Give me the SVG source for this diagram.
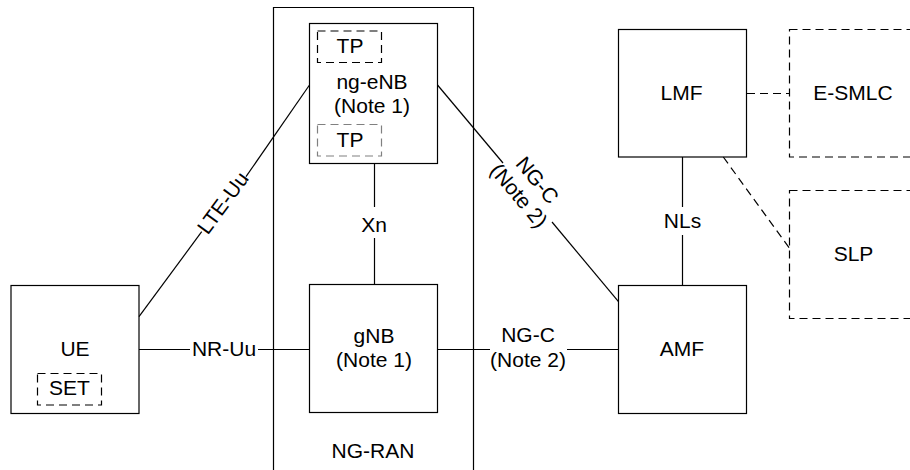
<svg xmlns="http://www.w3.org/2000/svg" width="910" height="470" viewBox="0 0 910 470">
<style>
.box{fill:none;stroke:#000;stroke-width:1.2}
.dbox{fill:none;stroke:#000;stroke-width:1.2;stroke-dasharray:8 5}
.gbox{fill:none;stroke:#808080;stroke-width:1.2;stroke-dasharray:8 5}
.ln{stroke:#000;stroke-width:1.2;fill:none}
.dln{stroke:#000;stroke-width:1.2;fill:none;stroke-dasharray:8 5}
text{font-family:"Liberation Sans",Arial,sans-serif;font-size:21px;fill:#000;text-anchor:middle}
</style>
<rect width="910" height="470" fill="#fff"/>
<g id="ng-ran">
<path class="box" d="M273.5,480 V7.5 H473.5 V480"/>
<text x="373" y="458">NG-RAN</text>
</g>
<g id="connectors">
<line class="ln" x1="139" y1="316.7" x2="201.7" y2="231.7"/>
<line class="ln" x1="246" y1="176.7" x2="309.5" y2="85"/>
<text transform="translate(223,203) rotate(-53.7)" x="0" y="7">LTE-Uu</text>
<line class="ln" x1="139" y1="349.5" x2="190" y2="349.5"/>
<line class="ln" x1="258" y1="349.5" x2="309.5" y2="349.5"/>
<text x="224" y="356">NR-Uu</text>
<line class="ln" x1="374.5" y1="163.5" x2="374.5" y2="207"/>
<line class="ln" x1="374.5" y1="238" x2="374.5" y2="285"/>
<text x="374" y="231.5">Xn</text>
<line class="ln" x1="437.5" y1="85" x2="503" y2="163"/>
<line class="ln" x1="552" y1="222" x2="618.5" y2="301.7"/>
<g transform="translate(528,188) rotate(50.1)">
<text x="0" y="-5">NG-C</text>
<text x="0" y="19">(Note 2)</text>
</g>
<line class="ln" x1="437.5" y1="349.5" x2="490" y2="349.5"/>
<line class="ln" x1="567" y1="349.5" x2="618.5" y2="349.5"/>
<text x="528" y="342.3">NG-C</text>
<text x="528" y="366.7">(Note 2)</text>
<line class="ln" x1="682.5" y1="157" x2="682.5" y2="207"/>
<line class="ln" x1="682.5" y1="235" x2="682.5" y2="285"/>
<text x="682.5" y="228.3">NLs</text>
<line class="dln" x1="747" y1="93.5" x2="789.5" y2="93.5"/>
<line class="dln" x1="723.3" y1="157" x2="789.5" y2="248.3"/>
</g>
<g id="ue">
<rect class="box" x="11" y="285.5" width="128" height="128"/>
<text x="75" y="355.7">UE</text>
<rect class="dbox" x="37.5" y="373.5" width="64" height="31.5"/>
<text x="69.5" y="395">SET</text>
</g>
<g id="ng-enb">
<rect class="box" x="309.5" y="23.5" width="128" height="140"/>
<rect class="dbox" x="317.5" y="31" width="64" height="31.5"/>
<text x="350" y="53.3">TP</text>
<text x="372" y="88.5">ng-eNB</text>
<text x="372" y="112.7">(Note 1)</text>
<rect class="gbox" x="317.5" y="124.5" width="64" height="31.5"/>
<text x="350" y="146.7">TP</text>
</g>
<g id="gnb">
<rect class="box" x="309.5" y="284.5" width="128" height="128"/>
<text x="374" y="342.7">gNB</text>
<text x="374" y="367">(Note 1)</text>
</g>
<g id="amf">
<rect class="box" x="618.5" y="285.5" width="128" height="128"/>
<text x="682" y="355.7">AMF</text>
</g>
<g id="lmf">
<rect class="box" x="618.5" y="29.5" width="128" height="127.5"/>
<text x="681.5" y="100">LMF</text>
</g>
<g id="e-smlc">
<rect class="dbox" x="789.5" y="29.5" width="140" height="127.5"/>
<text x="853" y="100">E-SMLC</text>
</g>
<g id="slp">
<rect class="dbox" x="789.5" y="190.5" width="140" height="128"/>
<text x="853.5" y="260.7">SLP</text>
</g>
</svg>
